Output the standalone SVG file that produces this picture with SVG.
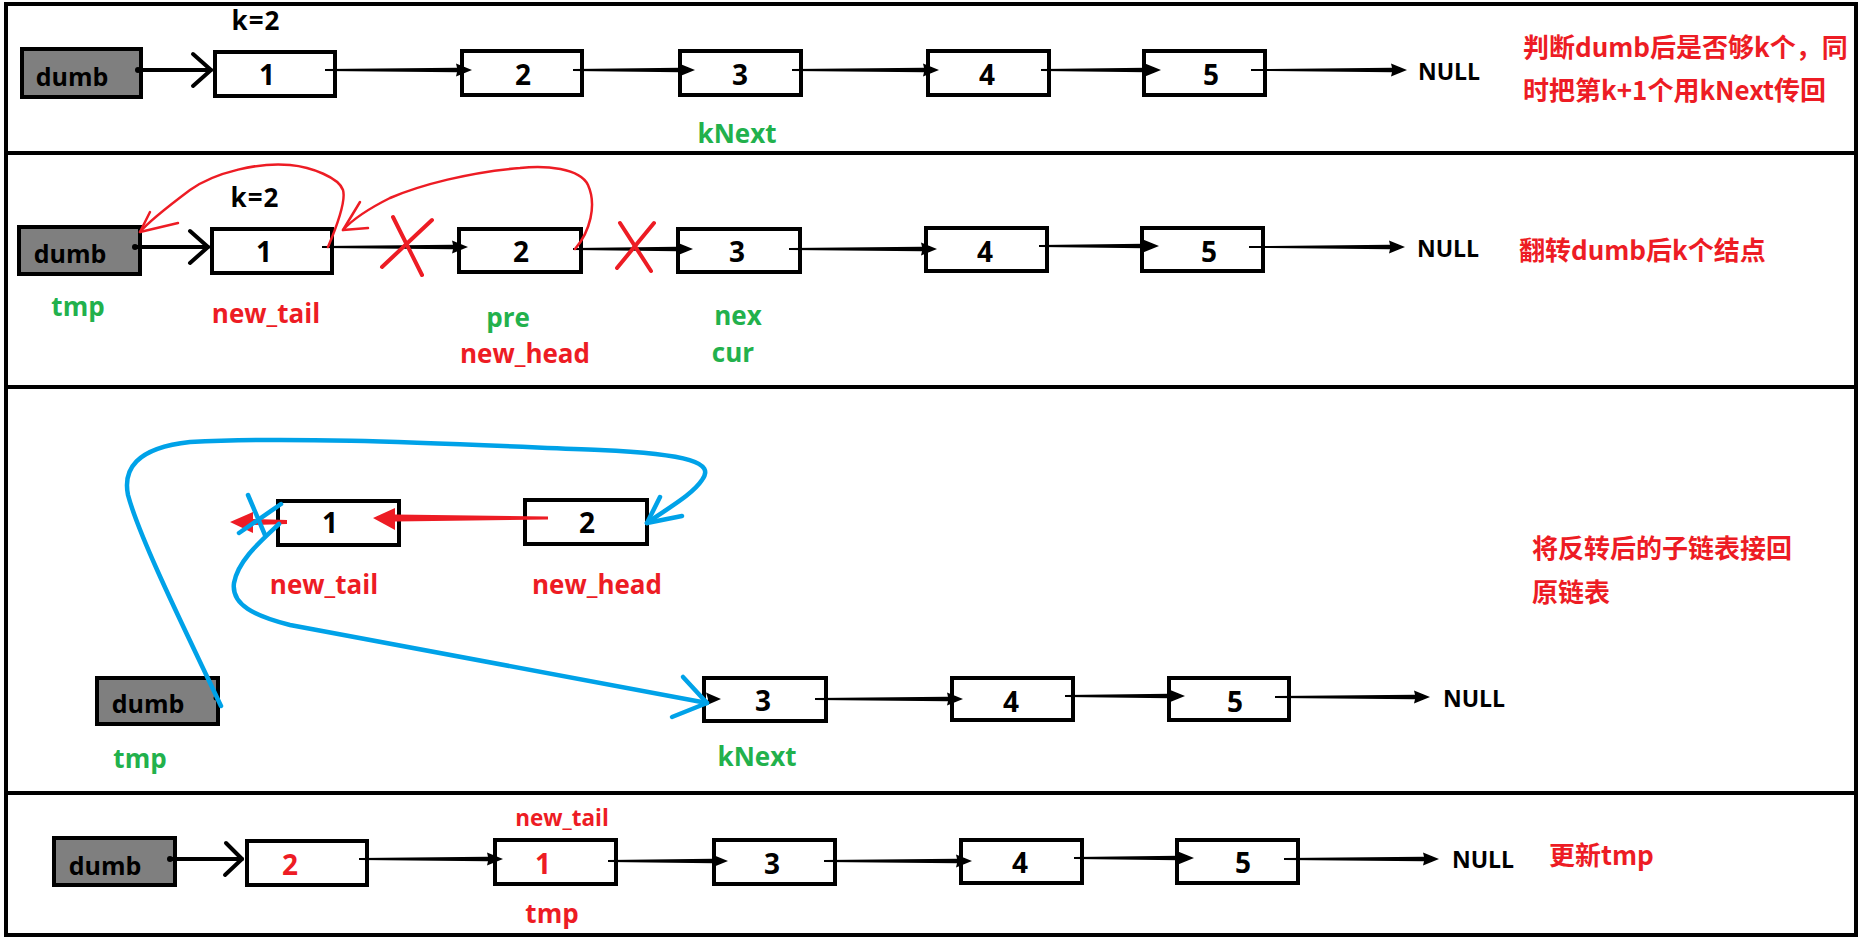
<svg xmlns="http://www.w3.org/2000/svg" width="1870" height="941" viewBox="0 0 1870 941">
<style>
.bg{fill:#fff}
.frame{fill:none;stroke:#000;stroke-width:4}
.sep{stroke:#000;stroke-width:4}
.dumb{fill:#7f7f7f;stroke:#000;stroke-width:4}
.box{fill:#fff;stroke:#000;stroke-width:4}
.t{font-family:"Open Sans","Liberation Sans",sans-serif;font-weight:700}
.num{font-size:28px;text-anchor:middle;fill:#000}
.dt{font-size:25px;text-anchor:middle;fill:#000}
.null{font-size:23px;fill:#000}
.lab{font-size:26px;text-anchor:middle}
.red{fill:#ed1c24}
.green{fill:#22b14c}
.blk{fill:#000}
.cn{font-family:"Noto Sans CJK SC","Noto Sans",sans-serif;font-weight:700;font-size:26px;fill:#ed1c24}
.arr{fill:#000}
.thick{fill:none;stroke:#000;stroke-width:4;stroke-linecap:round;stroke-linejoin:round}
.rpen{fill:none;stroke:#ed1c24;stroke-width:2.5;stroke-linecap:round;stroke-linejoin:round}
.rx{fill:none;stroke:#ed1c24;stroke-width:4;stroke-linecap:round}
.bpen{fill:none;stroke:#00a2e8;stroke-width:4.5;stroke-linecap:round;stroke-linejoin:round}
</style>
<rect class="bg" x="0" y="0" width="1870" height="941"/>
<g id="frame">
<rect class="frame" x="6" y="4" width="1850" height="931"/>
<line class="sep" x1="6" y1="153" x2="1856" y2="153"/>
<line class="sep" x1="6" y1="387" x2="1856" y2="387"/>
<line class="sep" x1="6" y1="793" x2="1856" y2="793"/>
</g>

<!-- Row 1 -->
<g id="r1-dumb"><rect class="dumb" x="22" y="49" width="119" height="48"/><text class="t dt" x="72" y="86">dumb</text></g>
<g id="r1-n1"><rect class="box" x="215" y="52" width="120" height="44"/><text class="t num" x="267" y="85">1</text></g>
<g id="r1-n2"><rect class="box" x="462" y="51" width="120" height="44"/><text class="t num" x="523" y="85">2</text></g>
<g id="r1-n3"><rect class="box" x="680" y="51" width="121" height="44"/><text class="t num" x="740" y="85">3</text></g>
<g id="r1-n4"><rect class="box" x="928" y="51" width="121" height="44"/><text class="t num" x="987" y="85">4</text></g>
<g id="r1-n5"><rect class="box" x="1144" y="51" width="121" height="44"/><text class="t num" x="1211" y="85">5</text></g>
<g id="r1-labels">
<text class="t lab blk" x="256" y="30" letter-spacing="1">k=2</text>
<text class="t lab green" x="737" y="143">kNext</text>
<text class="t null" x="1418" y="80">NULL</text>
<text class="cn" x="1523" y="57">判断dumb后是否够k个，同</text>
<text class="cn" x="1523" y="100">时把第k+1个用kNext传回</text>
</g>

<!-- Row 2 -->
<g id="r2-dumb"><rect class="dumb" x="19" y="227" width="121" height="47"/><text class="t dt" x="70" y="263">dumb</text></g>
<g id="r2-n1"><rect class="box" x="212" y="229" width="120" height="44"/><text class="t num" x="264" y="262">1</text></g>
<g id="r2-n2"><rect class="box" x="459" y="229" width="122" height="43"/><text class="t num" x="521" y="262">2</text></g>
<g id="r2-n3"><rect class="box" x="678" y="229" width="122" height="43"/><text class="t num" x="737" y="262">3</text></g>
<g id="r2-n4"><rect class="box" x="926" y="228" width="121" height="43"/><text class="t num" x="985" y="262">4</text></g>
<g id="r2-n5"><rect class="box" x="1142" y="228" width="121" height="43"/><text class="t num" x="1209" y="262">5</text></g>
<g id="r2-labels">
<text class="t lab blk" x="255" y="207" letter-spacing="1">k=2</text>
<text class="t lab green" x="78" y="316">tmp</text>
<text class="t lab red" x="266" y="323">new_tail</text>
<text class="t lab green" x="508" y="327">pre</text>
<text class="t lab red" x="525" y="363">new_head</text>
<text class="t lab green" x="738" y="325">nex</text>
<text class="t lab green" x="733" y="362">cur</text>
<text class="t null" x="1417" y="257">NULL</text>
<text class="cn" x="1519" y="260">翻转dumb后k个结点</text>
</g>

<!-- Row 3 -->
<g id="r3-n1"><rect class="box" x="278" y="501" width="121" height="44"/><text class="t num" x="330" y="533">1</text></g>
<g id="r3-n2"><rect class="box" x="525" y="500" width="122" height="44"/><text class="t num" x="587" y="533">2</text></g>
<g id="r3-dumb"><rect class="dumb" x="97" y="678" width="121" height="46"/><text class="t dt" x="148" y="713">dumb</text></g>
<g id="r3-n3"><rect class="box" x="704" y="678" width="122" height="43"/><text class="t num" x="763" y="711">3</text></g>
<g id="r3-n4"><rect class="box" x="952" y="678" width="121" height="42"/><text class="t num" x="1011" y="712">4</text></g>
<g id="r3-n5"><rect class="box" x="1169" y="678" width="120" height="42"/><text class="t num" x="1235" y="712">5</text></g>
<g id="r3-labels">
<text class="t lab red" x="324" y="594">new_tail</text>
<text class="t lab red" x="597" y="594">new_head</text>
<text class="t lab green" x="140" y="768">tmp</text>
<text class="t lab green" x="757" y="766">kNext</text>
<text class="t null" x="1443" y="707">NULL</text>
<text class="cn" x="1532" y="558">将反转后的子链表接回</text>
<text class="cn" x="1532" y="602">原链表</text>
</g>

<!-- Row 4 -->
<g id="r4-dumb"><rect class="dumb" x="54" y="838" width="121" height="47"/><text class="t dt" x="105" y="875">dumb</text></g>
<g id="r4-n2"><rect class="box" x="247" y="841" width="120" height="44"/><text class="t num red" x="290" y="875">2</text></g>
<g id="r4-n1"><rect class="box" x="495" y="840" width="121" height="44"/><text class="t num red" x="543" y="874">1</text></g>
<g id="r4-n3"><rect class="box" x="714" y="840" width="121" height="44"/><text class="t num" x="772" y="874">3</text></g>
<g id="r4-n4"><rect class="box" x="961" y="840" width="121" height="43"/><text class="t num" x="1020" y="873">4</text></g>
<g id="r4-n5"><rect class="box" x="1177" y="840" width="121" height="43"/><text class="t num" x="1243" y="873">5</text></g>
<g id="r4-labels">
<text class="t red" x="562" y="826" font-size="22.5" text-anchor="middle">new_tail</text>
<text class="t lab red" x="552" y="923">tmp</text>
<text class="t null" x="1452" y="868">NULL</text>
<text class="cn" x="1549" y="865">更新tmp</text>
</g>

<g id="connectors">
<!-- row 1 -->
<circle class="arr" cx="138" cy="70" r="3"/>
<line class="thick" x1="138" y1="70" x2="211" y2="70"/>
<polyline class="thick" points="193,54 211,70 193,86"/>
<polygon class="arr" points="325,69.1 457,67.8 456,63.5 472,70 456,76.5 457,72.2 325,70.9"/>
<polygon class="arr" points="573,69.1 680,67.8 679,63.5 695,70 679,76.5 680,72.2 573,70.9"/>
<polygon class="arr" points="792,69.1 924,67.8 923,63.5 939,70 923,76.5 924,72.2 792,70.9"/>
<polygon class="arr" points="1041,69.1 1146,67.8 1145,63.5 1161,70 1145,76.5 1146,72.2 1041,70.9"/>
<polygon class="arr" points="1251,69.1 1392,67.8 1391,63.5 1407,70 1391,76.5 1392,72.2 1251,70.9"/>
<!-- row 2 -->
<circle class="arr" cx="135" cy="247" r="3"/>
<line class="thick" x1="135" y1="247" x2="208" y2="247"/>
<polyline class="thick" points="190,231 208,247 190,263"/>
<polygon class="arr" points="322,246.1 453,244.8 452,240.5 468,247 452,253.5 453,249.2 322,247.9"/>
<polygon class="arr" points="573,248.1 678,246.8 677,242.5 693,249 677,255.5 678,251.2 573,249.9"/>
<polygon class="arr" points="789,248.1 922,246.8 921,242.5 937,249 921,255.5 922,251.2 789,249.9"/>
<polygon class="arr" points="1039,245.1 1144,243.8 1143,239.5 1159,246 1143,252.5 1144,248.2 1039,246.9"/>
<polygon class="arr" points="1249,246.1 1390,244.8 1389,240.5 1405,247 1389,253.5 1390,249.2 1249,247.9"/>
<path class="rpen" d="M328,247 C336,228 346,200 343,190 C339,178 312,167 290,165 C260,162 215,172 190,190 C170,205 150,220 140,232"/>
<polyline class="rpen" points="150,212 140,232 178,223"/>
<path class="rpen" d="M575,249 C590,232 597,205 588,185 C580,168 545,165 520,168 C470,172 420,185 390,198 C370,208 352,220 343,230"/>
<polyline class="rpen" points="360,202 343,230 368,228"/>
<line class="rx" x1="393" y1="217" x2="422" y2="275"/>
<line class="rx" x1="432" y1="220" x2="382" y2="267"/>
<line class="rx" x1="620" y1="223" x2="651" y2="271"/>
<line class="rx" x1="654" y1="223" x2="617" y2="268"/>
<!-- row 3 -->
<polygon class="red" points="548,516.5 395,514.5 395,508 373,518 395,530 395,521.5 548,519.5"/>
<polygon class="red" points="287,520 253,519 253,512 230,522 253,533 253,525 287,524"/>
<circle class="arr" cx="216" cy="698" r="2.5"/>
<polygon class="arr" points="706,692.5 721,699 706,705.5 708,699"/>
<polygon class="arr" points="815,698.1 948,696.8 947,692.5 963,699 947,705.5 948,701.2 815,699.9"/>
<polygon class="arr" points="1065,695.1 1170,693.8 1169,689.5 1185,696 1169,702.5 1170,698.2 1065,696.9"/>
<polygon class="arr" points="1275,696.1 1415,694.8 1414,690.5 1430,697 1414,703.5 1415,699.2 1275,697.9"/>
<path class="bpen" d="M221,706 C190,640 140,540 128,495 C123,470 135,448 190,442 C300,436 450,444 600,450 C690,454 715,463 702,480 C692,495 668,508 647,523"/>
<polyline class="bpen" points="660,497 647,523 682,516"/>
<line class="bpen" x1="248" y1="495" x2="265" y2="535"/>
<line class="bpen" x1="239" y1="533" x2="281" y2="504"/>
<path class="bpen" d="M279,524 C262,540 238,560 234,583 C231,605 255,616 290,625 C380,642 520,668 707,703"/>
<polyline class="bpen" points="683,677 707,703 672,717"/>
<!-- row 4 -->
<circle class="arr" cx="170" cy="859" r="3"/>
<line class="thick" x1="170" y1="859" x2="242" y2="859"/>
<polyline class="thick" points="226,843 242,859 225,875"/>
<polygon class="arr" points="359,858.1 488,856.8 487,852.5 503,859 487,865.5 488,861.2 359,859.9"/>
<polygon class="arr" points="608,860.1 713,858.8 712,854.5 728,861 712,867.5 713,863.2 608,861.9"/>
<polygon class="arr" points="824,860.1 957,858.8 956,854.5 972,861 956,867.5 957,863.2 824,861.9"/>
<polygon class="arr" points="1074,857.1 1179,855.8 1178,851.5 1194,858 1178,864.5 1179,860.2 1074,858.9"/>
<polygon class="arr" points="1284,858.1 1424,856.8 1423,852.5 1439,859 1423,865.5 1424,861.2 1284,859.9"/>
</g>
</svg>
